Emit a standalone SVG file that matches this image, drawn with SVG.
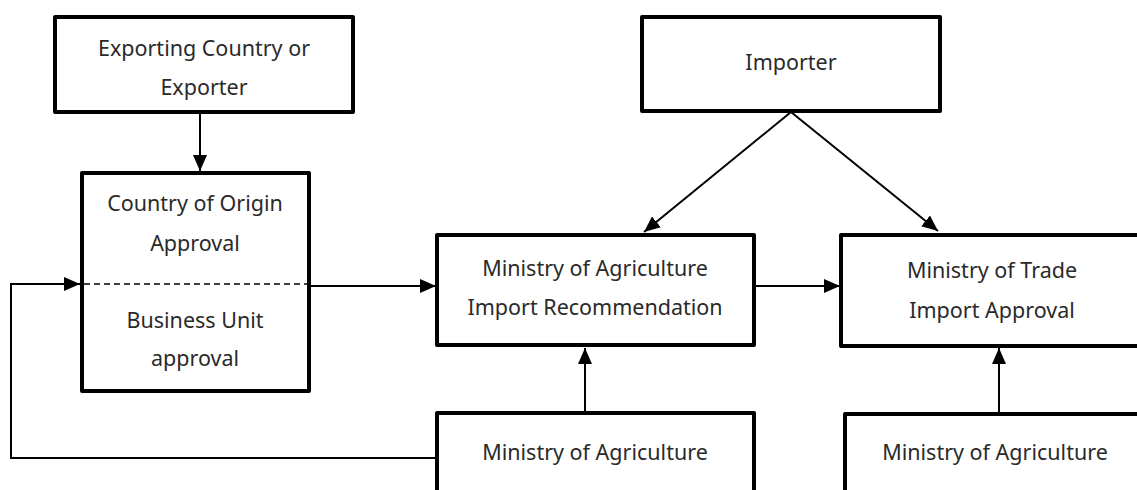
<svg xmlns="http://www.w3.org/2000/svg" width="1137" height="490" viewBox="0 0 1137 490">
<style>
.box{fill:#fff;stroke:#000;stroke-width:4;stroke-linejoin:round}
.t{font-family:"Noto Sans",sans-serif;font-size:21.5px;fill:#2a2a2a;text-anchor:middle}
.c{fill:none;stroke:#000;stroke-width:2}
</style>
<defs>
<marker id="ah" viewBox="0 0 16 14" refX="16" refY="7" markerWidth="16" markerHeight="14" markerUnits="userSpaceOnUse" orient="auto">
<path d="M0,0 L16,7 L0,14 Z" fill="#000"/>
</marker>
</defs>
<rect width="1137" height="490" fill="#fff"/>
<g id="connectors">
<line class="c" x1="200" y1="113" x2="200" y2="171" marker-end="url(#ah)"/>
<line class="c" x1="791" y1="112" x2="644" y2="232" marker-end="url(#ah)"/>
<line class="c" x1="791" y1="112" x2="938" y2="231" marker-end="url(#ah)"/>
<line class="c" x1="310" y1="286" x2="436" y2="286" marker-end="url(#ah)"/>
<line class="c" x1="755" y1="286" x2="840" y2="286" marker-end="url(#ah)"/>
<line class="c" x1="585" y1="412" x2="585" y2="348" marker-end="url(#ah)"/>
<line class="c" x1="999" y1="412" x2="999" y2="348" marker-end="url(#ah)"/>
<polyline class="c" points="436,458 11,458 11,284 80,284" marker-end="url(#ah)"/>
</g>
<g id="exporter">
<rect class="box" x="55" y="17" width="298" height="95"/>
<text class="t" x="204" y="56">Exporting Country or</text>
<text class="t" x="204" y="95">Exporter</text>
</g>
<g id="origin">
<rect class="box" x="82" y="173" width="227" height="218"/>
<line x1="84" y1="284" x2="307" y2="284" stroke="#000" stroke-width="1.5" stroke-dasharray="6,4"/>
<text class="t" x="195" y="211">Country of Origin</text>
<text class="t" x="195" y="251">Approval</text>
<text class="t" x="195" y="328">Business Unit</text>
<text class="t" x="195" y="366">approval</text>
</g>
<g id="importer">
<rect class="box" x="642" y="17" width="298" height="94"/>
<text class="t" x="791" y="70">Importer</text>
</g>
<g id="moa-rec">
<rect class="box" x="437" y="235" width="317" height="110"/>
<text class="t" x="595" y="276">Ministry of Agriculture</text>
<text class="t" x="595" y="315">Import Recommendation</text>
</g>
<g id="mot">
<rect class="box" x="841" y="235" width="310" height="111"/>
<text class="t" x="992" y="278">Ministry of Trade</text>
<text class="t" x="992" y="318">Import Approval</text>
</g>
<g id="moa1">
<rect class="box" x="437" y="413" width="317" height="100"/>
<text class="t" x="595" y="460">Ministry of Agriculture</text>
</g>
<g id="moa2">
<rect class="box" x="845" y="414" width="310" height="100"/>
<text class="t" x="995" y="460">Ministry of Agriculture</text>
</g>
</svg>
